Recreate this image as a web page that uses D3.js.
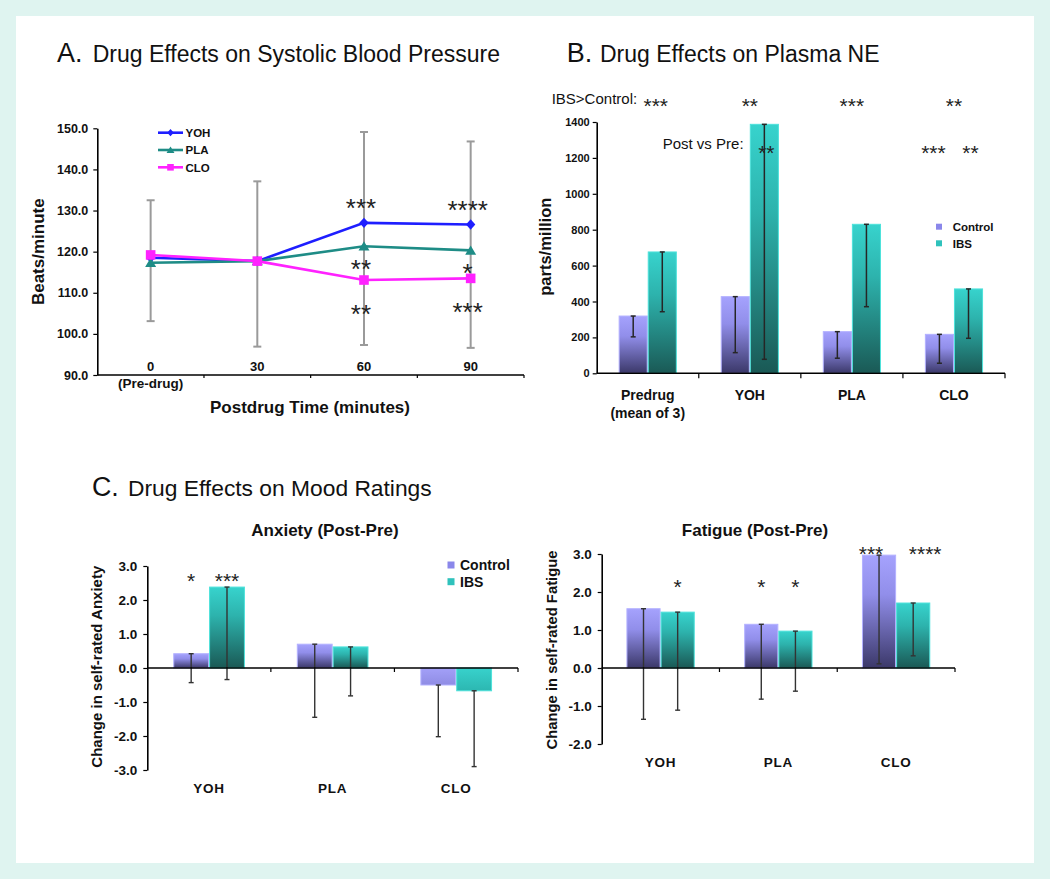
<!DOCTYPE html>
<html><head><meta charset="utf-8">
<script src="https://cdn.jsdelivr.net/npm/d3@7"></script>
<style>body{margin:0;background:#fff}svg{display:block}text{font-family:"Liberation Sans",Arial,sans-serif}</style>
</head><body><script>
// ---------- DATA ----------
// Panel A: systolic blood pressure
const bpTimes = ["0","30","60","90"];
const bpYOH = [118.5,117.7,127.0,126.6];
const bpPLA = [117.3,117.7,121.3,120.3];
const bpCLO = [119.2,117.7,113.1,113.5];
const bpErrHigh = [132.5,137.1,149.1,146.8];
const bpErrLow = [103.1,96.9,97.3,96.6];
const bpTicks = [90,100,110,120,130,140,150];
const bpStarsYOH = ["","","***","****"];
const bpStarsPLA = ["","","**","*"];
const bpStarsCLO = ["","","**","***"];

// Panel B: plasma NE
const neGroups = ["Predrug","YOH","PLA","CLO"];
const neSubLabels = ["(mean of 3)","","",""];
const neControl = [319,427,232,217];
const neIBS = [676,1387,830,470];
const neControlErrLow = [203,115,84,56];
const neIBSErrLow = [343,78,371,195];
const neTicks = [0,200,400,600,800,1000,1200,1400];
const neStarsIBSvsControl = ["***","**","***","**"];
const neStarsPostPreControl = ["","","","***"];
const neStarsPostPreIBS = ["","**","","**"];

// Panel C: mood ratings
const seriesNames = ["Control","IBS"];
const moodGroups = ["YOH","PLA","CLO"];
const anxControl = [0.42,0.70,-0.50];
const anxIBS = [2.38,0.62,-0.67];
const anxControlErrLow = [-0.43,-1.45,-2.02];
const anxIBSErrLow = [-0.34,-0.82,-2.90];
const anxTicks = [-3,-2,-1,0,1,2,3];
const anxStarsControl = ["*","",""];
const anxStarsIBS = ["***","",""];
const anxStarLevel = [2.7,0,0];
const fatControl = [1.56,1.15,2.97];
const fatIBS = [1.47,0.97,1.71];
const fatControlErrLow = [-1.35,-0.82,0.11];
const fatIBSErrLow = [-1.11,-0.61,0.32];
const fatTicks = [-2,-1,0,1,2,3];
const fatStarsControl = ["","*","***"];
const fatStarsIBS = ["*","*","****"];
const fatStarLevel = [2.26,2.26,3.14];

// ---------- SETUP ----------
const W = 1050, H = 879;
const svg = d3.select("body").append("svg").attr("width",W).attr("height",H);
svg.append("rect").attr("width",W).attr("height",H).attr("fill","#dff4f0");
svg.append("rect").attr("x",16).attr("y",16).attr("width",1018).attr("height",847).attr("fill","#fff");

const defs = svg.append("defs");
function grad(id, stops){
  const g = defs.append("linearGradient").attr("id",id).attr("x1",0).attr("y1",0).attr("x2",0).attr("y2",1);
  stops.forEach(s=>g.append("stop").attr("offset",s[0]).attr("stop-color",s[1]));
}
grad("gCtrl",[[0,"#a5a2fd"],[0.35,"#918eea"],[1,"#3b3869"]]);
grad("gIBS",[[0,"#37d3cd"],[0.35,"#2db3ad"],[1,"#1a5955"]]);
grad("gCtrlNeg",[[0,"#a3a0f8"],[1,"#8f8ce4"]]);
grad("gIBSNeg",[[0,"#38d2cc"],[1,"#2cb7b1"]]);
const fillPos = {Control:"url(#gCtrl)", IBS:"url(#gIBS)"};
const fillNeg = {Control:"url(#gCtrlNeg)", IBS:"url(#gIBSNeg)"};
const edge = {Control:"#b3b1ff", IBS:"#4de2db"};
const legendCol = {Control:"#8a87ea", IBS:"#2fc2bc"};

const FONT = '"Liberation Sans", Arial, sans-serif';
const fmt1 = d => d.toFixed(1);
function txt(g, x, y, s, size, opts={}){
  return g.append("text").attr("x",x).attr("y",y).text(s)
    .attr("font-size",size).attr("font-weight",opts.bold?"bold":"normal")
    .attr("text-anchor",opts.anchor||"start").attr("fill",opts.fill||"#111");
}
function stars(g, x, yc, s, size, ls){
  if(!s) return;
  g.append("text").attr("x",x + ls/2).attr("y",yc + 0.585*size).text(s)
    .attr("font-family","DejaVu Sans").attr("font-size",size)
    .attr("letter-spacing",ls).attr("text-anchor","middle").attr("fill","#222");
}
function vlabel(g, x, y, s, size){
  g.append("text").attr("transform",`translate(${x},${y}) rotate(-90)`)
    .attr("dy","0.35em").attr("text-anchor","middle").attr("font-size",size)
    .attr("font-weight","bold").attr("fill","#111").text(s);
}
function title(letter, lx, rest, rx, y, size){
  svg.append("text").attr("x",lx).attr("y",y).attr("font-size",size+4).attr("fill","#111").text(letter);
  svg.append("text").attr("x",rx).attr("y",y).attr("font-size",size).attr("fill","#111").text(rest);
}
function styleAxis(a, fs){
  a.select(".domain").attr("stroke","#000").attr("stroke-width",1.6);
  a.selectAll(".tick line").attr("stroke","#000").attr("stroke-width",1.2);
  a.selectAll(".tick text").attr("font-size",fs).attr("font-weight","bold").attr("fill","#111").attr("font-family",FONT);
}

// ---------- PANEL A ----------
title("A.",57,"Drug Effects on Systolic Blood Pressure",92.7,62,23);
const gA = svg.append("g");
const xA = d3.scaleBand().domain(bpTimes).range([97.3,524]).padding(0);
const yA = d3.scaleLinear().domain([90,150]).range([375,128.3]);
const cxA = t => xA(t) + xA.bandwidth()/2;

const axA = gA.append("g").attr("transform","translate(97.3,0)")
  .call(d3.axisLeft(yA).tickValues(bpTicks).tickFormat(fmt1).tickSize(4).tickSizeOuter(0).tickPadding(5));
styleAxis(axA, 12.5);
gA.append("line").attr("x1",xA.range()[0]).attr("x2",xA.range()[1]).attr("y1",yA(90)).attr("y2",yA(90))
  .attr("stroke","#000").attr("stroke-width",1.6);
bpTimes.forEach(t=>{
  const x = xA(t)+xA.bandwidth();
  gA.append("line").attr("x1",x).attr("x2",x).attr("y1",yA(90)).attr("y2",yA(90)+3).attr("stroke","#000").attr("stroke-width",1.2);
  txt(gA, cxA(t), yA(90)-4.5, t, 13, {bold:true, anchor:"middle"});
});
txt(gA, cxA("0"), yA(90)+12.5, "(Pre-drug)", 13.5, {bold:true, anchor:"middle"});
txt(gA, 310, 412.5, "Postdrug Time (minutes)", 17, {bold:true, anchor:"middle"});
vlabel(gA, 38, 251.7, "Beats/minute", 17);

// error bars
bpTimes.forEach((t,i)=>{
  const x = cxA(t);
  gA.append("line").attr("x1",x).attr("x2",x).attr("y1",yA(bpErrLow[i])).attr("y2",yA(bpErrHigh[i]))
    .attr("stroke","#9a9a9a").attr("stroke-width",2);
  [bpErrLow[i],bpErrHigh[i]].forEach(v=>gA.append("line").attr("x1",x-4).attr("x2",x+4)
    .attr("y1",yA(v)).attr("y2",yA(v)).attr("stroke","#9a9a9a").attr("stroke-width",2));
});
const diamond = (s)=>`M0,${-s}L${s*0.9},0L0,${s}L${-s*0.9},0Z`;
const triangle = (s)=>`M0,${-s}L${s*1.1},${s*0.85}L${-s*1.1},${s*0.85}Z`;
const square = (s)=>`M${-s},${-s}H${s}V${s}H${-s}Z`;
const bpSeries = [
  {name:"YOH", values:bpYOH, color:"#1e1eff", shape:diamond, ms:5.2, ls:3.6},
  {name:"PLA", values:bpPLA, color:"#1e8c86", shape:triangle, ms:5, ls:3.6},
  {name:"CLO", values:bpCLO, color:"#ff22ff", shape:square, ms:4.8, ls:3.3}
];
const lineA = d3.line().x((d,i)=>cxA(bpTimes[i])).y(d=>yA(d));
bpSeries.forEach(s=>{
  gA.append("path").attr("d",lineA(s.values)).attr("fill","none").attr("stroke",s.color).attr("stroke-width",2.6);
  s.values.forEach((v,i)=>gA.append("path").attr("d",s.shape(s.ms))
    .attr("transform",`translate(${cxA(bpTimes[i])},${yA(v)})`).attr("fill",s.color));
});
// legend A
bpSeries.forEach((s,i)=>{
  const y = 132.7 + i*17.3;
  gA.append("line").attr("x1",158).attr("x2",183).attr("y1",y).attr("y2",y).attr("stroke",s.color).attr("stroke-width",2.6);
  gA.append("path").attr("d",s.shape(s.ls)).attr("transform",`translate(170.5,${y})`).attr("fill",s.color);
  txt(gA, 185.5, y+4.2, s.name, 11.5, {bold:true});
});
// stars A
bpTimes.forEach((t,i)=>{
  const x = cxA(t)-3;
  stars(gA, x, yA(bpYOH[i])-21, bpStarsYOH[i], 26, 0);
  stars(gA, x, yA(bpPLA[i])+16, bpStarsPLA[i], 26, 0);
  stars(gA, x, yA(bpCLO[i])+27.5, bpStarsCLO[i], 26, 0);
});

// ---------- generic grouped bar drawing ----------
function drawBars(g, groups, ctrl, ibs, ctrlLow, ibsLow, x0, x1, y, errColor, errW, cap){
  const vals = {Control:ctrl, IBS:ibs}, lows = {Control:ctrlLow, IBS:ibsLow};
  groups.forEach((grp,i)=>{
    seriesNames.forEach(sn=>{
      const v = vals[sn][i];
      const bx = x0(grp)+x1(sn);
      const top = Math.min(y(v),y(0)), h = Math.abs(y(v)-y(0));
      g.append("rect").attr("x",bx+0.5).attr("y",top).attr("width",x1.bandwidth()-1).attr("height",h)
        .attr("fill", v>=0 ? fillPos[sn] : fillNeg[sn]).attr("stroke",edge[sn]).attr("stroke-width",1);
      const cx = bx + x1.bandwidth()/2;
      g.append("line").attr("x1",cx).attr("x2",cx).attr("y1",y(v)).attr("y2",y(lows[sn][i]))
        .attr("stroke",errColor).attr("stroke-width",errW);
      [v, lows[sn][i]].forEach(e=>g.append("line").attr("x1",cx-cap).attr("x2",cx+cap)
        .attr("y1",y(e)).attr("y2",y(e)).attr("stroke",errColor).attr("stroke-width",errW));
    });
  });
}

// ---------- PANEL B ----------
title("B.",566.7,"Drug Effects on Plasma NE",600,62,23);
const gB = svg.append("g");
const xB = d3.scaleBand().domain(neGroups).range([596.7,1005]).paddingInner(0.43).paddingOuter(0.215);
const xBs = d3.scaleBand().domain(seriesNames).range([0,xB.bandwidth()]);
const yB = d3.scaleLinear().domain([0,1400]).range([373.3,122]);
const axB = gB.append("g").attr("transform","translate(596.7,0)")
  .call(d3.axisLeft(yB).tickValues(neTicks).tickFormat(d=>String(d)).tickSize(4).tickSizeOuter(0).tickPadding(3));
styleAxis(axB, 11);
drawBars(gB, neGroups, neControl, neIBS, neControlErrLow, neIBSErrLow, xB, xBs, yB, "#262626", 1.5, 2.5);
gB.append("line").attr("x1",596.7).attr("x2",1005).attr("y1",yB(0)).attr("y2",yB(0)).attr("stroke","#000").attr("stroke-width",1.6);
const stepB = xB.step();
neGroups.forEach((grp,i)=>{
  const xe = 596.7 + stepB*(i+1);
  gB.append("line").attr("x1",xe).attr("x2",xe).attr("y1",yB(0)).attr("y2",yB(0)+5).attr("stroke","#000").attr("stroke-width",1.2);
  const cx = xB(grp)+xB.bandwidth()/2;
  txt(gB, cx, 400, grp, 14, {bold:true, anchor:"middle"});
  if(neSubLabels[i]) txt(gB, cx, 417.5, neSubLabels[i], 14, {bold:true, anchor:"middle"});
  stars(gB, cx + (i===0?8:0), 100.7, neStarsIBSvsControl[i], 21, 0);
  stars(gB, xB(grp)+xBs("Control")+xBs.bandwidth()/2 - 6, 147.3, neStarsPostPreControl[i], 21, 0);
  stars(gB, xB(grp)+xBs("IBS")+xBs.bandwidth()/2 + 2, 147.3, neStarsPostPreIBS[i], 21, 0);
});
txt(gB, 551.7, 103.7, "IBS>Control:", 15);
txt(gB, 662.7, 149.4, "Post vs Pre:", 15);
vlabel(gB, 545, 246.7, "parts/million", 16.5);
seriesNames.forEach((sn,i)=>{
  const y = 226.7 + i*16.6;
  gB.append("rect").attr("x",936).attr("y",y-3).attr("width",6).attr("height",6).attr("fill",legendCol[sn]);
  txt(gB, 952.7, y+4.2, sn, 11.5, {bold:true});
});

// ---------- PANEL C ----------
title("C.",92,"Drug Effects on Mood Ratings",128,496,22.8);
function moodPanel(cfg){
  const g = svg.append("g");
  const x0 = d3.scaleBand().domain(moodGroups).range(cfg.xr).paddingInner(0.42).paddingOuter(0.21);
  const x1 = d3.scaleBand().domain(seriesNames).range([0,x0.bandwidth()]);
  const y = d3.scaleLinear().domain(cfg.yd).range(cfg.yr);
  const ax = g.append("g").attr("transform",`translate(${cfg.xr[0]},0)`)
    .call(d3.axisLeft(y).tickValues(cfg.ticks).tickFormat(fmt1).tickSize(4).tickSizeOuter(0).tickPadding(6));
  styleAxis(ax, 13.5);
  drawBars(g, moodGroups, cfg.ctrl, cfg.ibs, cfg.ctrlLow, cfg.ibsLow, x0, x1, y, "#333", 1.4, 2.5);
  g.append("line").attr("x1",cfg.xr[0]).attr("x2",cfg.xr[1]).attr("y1",y(0)).attr("y2",y(0)).attr("stroke","#000").attr("stroke-width",1.4);
  moodGroups.forEach((grp,i)=>{
    const xe = cfg.xr[0] + x0.step()*(i+1);
    g.append("line").attr("x1",xe).attr("x2",xe).attr("y1",y(0)).attr("y2",y(0)+4).attr("stroke","#000").attr("stroke-width",1.2);
    const cx = x0(grp)+x0.bandwidth()/2;
    txt(g, cx, cfg.catY, grp, 13.5, {bold:true, anchor:"middle"}).attr("letter-spacing",0.8);
    const sy = y(cfg.starLevel[i]);
    const sc = cfg.starsCtrl[i], si = cfg.starsIBS[i];
    const spread = cfg.spread ? 4 : 0;
    stars(g, x0(grp)+x1("Control")+x1.bandwidth()/2 - spread*Math.max(0,sc.length-1), sy, sc, 21, 0);
    stars(g, x0(grp)+x1("IBS")+x1.bandwidth()/2 + spread*Math.max(0,si.length-1), sy, si, 21, 0);
  });
  txt(g, cfg.titleX, 536, cfg.title, 17, {bold:true, anchor:"middle"});
  vlabel(g, cfg.ylabX, cfg.ylabY, cfg.ylab, cfg.ylabSize);
  return g;
}
const gAnx = moodPanel({xr:[147.3,518], yd:[-3,3], yr:[770,566], ticks:anxTicks,
  ctrl:anxControl, ibs:anxIBS, ctrlLow:anxControlErrLow, ibsLow:anxIBSErrLow,
  starsCtrl:anxStarsControl, starsIBS:anxStarsIBS, starLevel:anxStarLevel, spread:false,
  catY:793, title:"Anxiety (Post-Pre)", titleX:325, ylab:"Change in self-rated Anxiety", ylabX:96.7, ylabY:666.7, ylabSize:15});
seriesNames.forEach((sn,i)=>{
  const y = 565 + i*16.7;
  gAnx.append("rect").attr("x",447.5).attr("y",y-3.5).attr("width",7).attr("height",7).attr("fill",legendCol[sn]);
  txt(gAnx, 460, y+5, sn, 14, {bold:true});
});
moodPanel({xr:[601.7,955], yd:[-2,3], yr:[744,554], ticks:fatTicks,
  ctrl:fatControl, ibs:fatIBS, ctrlLow:fatControlErrLow, ibsLow:fatIBSErrLow,
  starsCtrl:fatStarsControl, starsIBS:fatStarsIBS, starLevel:fatStarLevel, spread:true,
  catY:766.5, title:"Fatigue (Post-Pre)", titleX:755, ylab:"Change in self-rated Fatigue", ylabX:551.7, ylabY:650, ylabSize:14.8});
</script></body></html>
